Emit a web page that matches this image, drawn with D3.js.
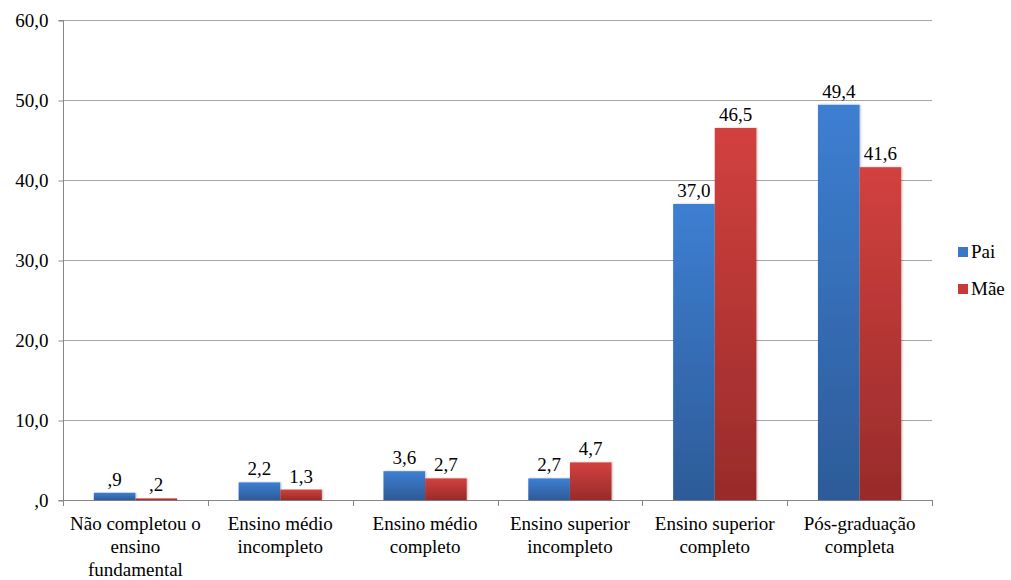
<!DOCTYPE html>
<html>
<head>
<meta charset="utf-8">
<script src="https://cdn.jsdelivr.net/npm/d3@7"></script>
<style>
  body { margin: 0; background: #fff; }
  html body svg#chart text, html body svg#chart tspan { font-family: 'Liberation Serif' !important; }
</style>
</head>
<body>
<svg id="chart" width="1011" height="580"></svg>
<script>
// Education level of parents (%)
const categories = [
  ["Não completou o", "ensino", "fundamental"],
  ["Ensino médio", "incompleto"],
  ["Ensino médio", "completo"],
  ["Ensino superior", "incompleto"],
  ["Ensino superior", "completo"],
  ["Pós-graduação", "completa"]
];
const seriesNames = ["Pai", "Mãe"];
const paiValues = [0.9, 2.2, 3.6, 2.7, 37.0, 49.4];
const maeValues = [0.2, 1.3, 2.7, 4.7, 46.5, 41.6];
const yTicks = [0, 10, 20, 30, 40, 50, 60];

const setFont = sel => sel.attr("font-family", "Liberation Serif").attr("font-size", 19).attr("fill", "#000");

const fmt = v => {
  const s = v.toFixed(1).replace(".", ",");
  return s.startsWith("0,") ? s.slice(1) : s;
};

const svg = d3.select("#chart");
const m = { left: 63, right: 932, top: 20, bottom: 500 };

const x0 = d3.scaleBand().domain(d3.range(categories.length)).range([m.left, m.right]);
const x1 = d3.scaleBand().domain(seriesNames).range([0, x0.bandwidth()]).paddingOuter(0.74).paddingInner(0);
const y = d3.scaleLinear().domain([0, 60]).range([m.bottom, m.top]);

const defs = svg.append("defs");
const grads = [
  { id: "gBlue", top: "#3d7fd2", bottom: "#2d5b98" },
  { id: "gRed", top: "#d2413f", bottom: "#982b2a" }
];
grads.forEach(g => {
  const lg = defs.append("linearGradient").attr("id", g.id)
    .attr("x1", 0).attr("y1", 0).attr("x2", 0).attr("y2", 1);
  lg.append("stop").attr("offset", "0%").attr("stop-color", g.top);
  lg.append("stop").attr("offset", "100%").attr("stop-color", g.bottom);
});
const shadow = defs.append("filter").attr("id", "sh").attr("x", "-20%").attr("y", "-5%").attr("width", "140%").attr("height", "110%");
shadow.append("feDropShadow").attr("dx", 1).attr("dy", 0).attr("stdDeviation", 1).attr("flood-color", "#000").attr("flood-opacity", 0.25);

// Gridlines
svg.append("g").selectAll("line").data(yTicks.filter(t => t > 0)).join("line")
  .attr("x1", m.left).attr("x2", m.right)
  .attr("y1", d => y(d) + 0.5).attr("y2", d => y(d) + 0.5)
  .attr("stroke", "#a6a6a6").attr("stroke-width", 1);

// Y axis
const yAxis = svg.append("g").attr("transform", `translate(${m.left + 0.5},0)`)
  .call(d3.axisLeft(y).tickValues(yTicks).tickSize(5).tickPadding(10).tickFormat(fmt));
yAxis.attr("font-family", "Liberation Serif").attr("font-size", 19);
yAxis.select(".domain").attr("stroke", "#868686").attr("d", `M-5,${y(60) + 0.5}H0V${y(0) + 0.5}H-5`);
yAxis.selectAll(".tick line").attr("stroke", "#868686").attr("transform", "translate(0,0.5)");
yAxis.selectAll(".tick text").call(setFont).attr("dy", "0.35em");

// X axis
const xg = svg.append("g");
xg.append("line").attr("x1", m.left).attr("x2", m.right)
  .attr("y1", m.bottom + 0.5).attr("y2", m.bottom + 0.5).attr("stroke", "#868686");
const bounds = d3.range(categories.length + 1).map(i => i < categories.length ? x0(i) : m.right);
xg.selectAll("line.tk").data(bounds).join("line").attr("class", "tk")
  .attr("x1", d => Math.round(d) + 0.5).attr("x2", d => Math.round(d) + 0.5)
  .attr("y1", m.bottom).attr("y2", m.bottom + 6).attr("stroke", "#868686");

// Category labels
categories.forEach((lines, i) => {
  const cx = x0(i) + x0.bandwidth() / 2;
  const t = svg.append("text").attr("x", cx).attr("y", 530)
    .attr("text-anchor", "middle").call(setFont);
  lines.forEach((ln, j) => t.append("tspan").attr("x", cx).attr("dy", j === 0 ? 0 : 23).text(ln));
});

// Bars with value labels
const rows = categories.map((c, i) => [
  { s: "Pai", v: paiValues[i], i }, { s: "Mãe", v: maeValues[i], i }
]);
const barG = svg.append("g");
rows.flat().forEach(d => {
  barG.append("rect")
    .attr("x", x0(d.i) + x1(d.s)).attr("width", x1.bandwidth())
    .attr("y", y(d.v)).attr("height", y(0) - y(d.v))
    .attr("fill", d.s === "Pai" ? "url(#gBlue)" : "url(#gRed)")
    .attr("filter", "url(#sh)");
  barG.append("text")
    .attr("x", x0(d.i) + x1(d.s) + x1.bandwidth() / 2)
    .attr("y", y(d.v) - 7)
    .attr("text-anchor", "middle").call(setFont)
    .text(fmt(d.v));
});

// Legend
const legend = svg.append("g");
seriesNames.forEach((s, k) => {
  const ly = 252 + k * 37;
  legend.append("rect").attr("x", 958).attr("y", ly - 5).attr("width", 10).attr("height", 10)
    .attr("fill", k === 0 ? "#3a78c6" : "#c73a38");
  legend.append("text").attr("x", 971).attr("y", ly + 6).call(setFont).text(s);
});
</script>
</body>
</html>
